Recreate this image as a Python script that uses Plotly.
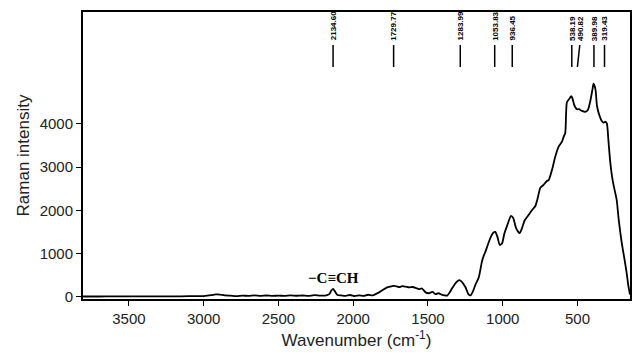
import plotly.graph_objects as go

# Spectrum (wavenumber in cm-1, Raman intensity)
wavenumber = [3807, 3700, 3600, 3500, 3400, 3300, 3200, 3100, 3000, 2950, 2920, 2890, 2860,
              2820, 2780, 2740, 2700, 2660, 2620, 2580, 2540, 2500, 2460, 2420, 2380, 2340,
              2300, 2260, 2220, 2180, 2160, 2145, 2134, 2120, 2105, 2080, 2050, 2020, 1990,
              1960, 1930, 1900, 1870, 1850, 1827, 1800, 1782, 1760, 1727, 1710, 1693, 1670,
              1649, 1625, 1604, 1580, 1560, 1540, 1516, 1495, 1470, 1449, 1430, 1404, 1385,
              1371, 1355, 1338, 1310, 1290, 1275, 1249, 1230, 1216, 1200, 1180, 1160, 1140,
              1127, 1115, 1095, 1075, 1060, 1050, 1035, 1020, 1005, 990, 970, 945, 930, 910,
              887, 870, 853, 830, 805, 782, 765, 749, 727, 705, 693, 671, 649, 627, 604, 593,
              582, 571, 555, 542, 535, 520, 504, 490, 470, 449, 430, 415, 400, 393, 380, 370,
              355, 340, 327, 315, 304, 293, 282, 270, 260, 238, 225, 204, 185, 171, 160, 149]
intensity = [5, 5, 8, 6, 8, 10, 8, 12, 15, 35, 55, 50, 30,
             25, 15, 25, 20, 30, 20, 28, 18, 25, 20, 30, 22, 28,
             20, 35, 25, 30, 60, 150, 180, 110, 40, 30, 20, 40, 15,
             30, 20, 45, 30, 60, 100, 160, 200, 225, 250, 240, 220, 245,
             232, 215, 225, 200, 175, 190, 100, 80, 110, 60, 80, 40, 30,
             25, 100, 200, 340, 385, 350, 220, 60, 30, 120, 300, 450, 800,
             950, 1050, 1250, 1420, 1490, 1500, 1380, 1200, 1230, 1450, 1650, 1870, 1820, 1580,
             1470, 1600, 1770, 1880, 2000, 2100, 2300, 2520, 2590, 2680, 2700, 2930, 3240, 3470, 3590, 3700,
             3790, 4500, 4580, 4640, 4600, 4420, 4340, 4340, 4300, 4280, 4330, 4520, 4800, 4930, 4800, 4420,
             4210, 4080, 4030, 4050, 4010, 3600, 3150, 2800, 2600, 2240, 1800, 1240, 850, 541, 250, 50]

# Peak labels
peak_positions = [2134.60, 1729.77, 1283.99, 1053.83, 936.45, 538.19, 490.82, 389.98, 319.43]
peak_labels = ["2134.60", "1729.77", "1283.99", "1053.83", "936.45", "538.19", "490.82", "389.98", "319.43"]

x_ticks = [3500, 3000, 2500, 2000, 1500, 1000, 500]
y_ticks = [0, 1000, 2000, 3000, 4000]

fig = go.Figure()
fig.add_trace(go.Scatter(x=wavenumber, y=intensity, mode="lines",
                         line=dict(color="black", width=1.8, shape="spline", smoothing=0.6),
                         hoverinfo="skip", showlegend=False))

line_bottom, line_top, label_base = 5317, 5826, 5880
for p, lab in zip(peak_positions, peak_labels):
    x0 = p
    x1 = p
    if lab == "490.82":
        x0 = p + 10
        x1 = p - 6
    fig.add_shape(type="line", xref="x", yref="y", x0=x0, x1=x1, y0=line_bottom, y1=line_top,
                  line=dict(color="black", width=1.5))
    fig.add_annotation(x=x1, y=label_base, xref="x", yref="y", text="<b>" + lab + "</b>", showarrow=False,
                       textangle=-90, xanchor="center", yanchor="bottom",
                       font=dict(family="Liberation Sans Narrow, Liberation Sans, Arial", size=8, color="black"))

fig.add_annotation(x=2134.60, y=440, xref="x", yref="y", text="<b>\u2212C\u2261CH</b>", showarrow=False,
                   xanchor="center", yanchor="middle",
                   font=dict(family="Liberation Serif, Times New Roman, serif", size=15, color="black"))

axis_common = dict(showline=True, linecolor="black", linewidth=2, mirror=True,
                   ticks="outside", ticklen=5, tickwidth=1, tickcolor="black",
                   showgrid=False, zeroline=False,
                   tickfont=dict(family="Liberation Sans, Arial", size=15, color="#222"))

fig.update_xaxes(range=[3807, 149], tickvals=x_ticks,
                 title=dict(text="Wavenumber (cm<sup>-1</sup>)", standoff=8,
                            font=dict(family="Liberation Sans, Arial", size=17, color="#222")),
                 **axis_common)
fig.update_yaxes(range=[-53, 6590], tickvals=y_ticks,
                 title=dict(text="Raman intensity", standoff=6,
                            font=dict(family="Liberation Sans, Arial", size=17, color="#222")),
                 **axis_common)

fig.update_layout(width=633, height=353, margin=dict(l=83, r=1, t=12, b=54),
                  paper_bgcolor="white", plot_bgcolor="white")

fig.write_html("out.html")
